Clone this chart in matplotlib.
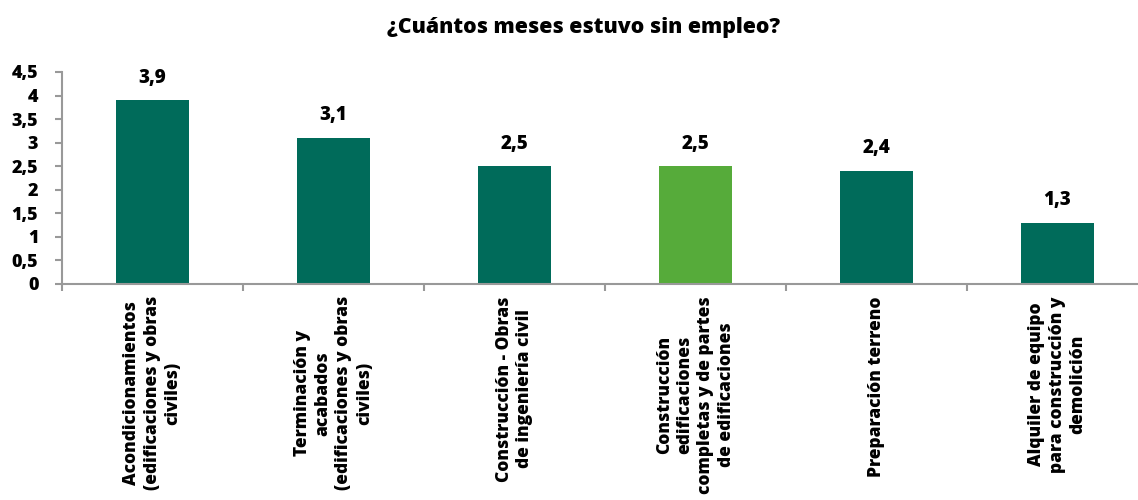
import matplotlib
matplotlib.use('Agg')
from matplotlib import pyplot as plt

# data
categories = [
    'Acondicionamientos\n(edificaciones y obras\nciviles)',
    'Terminación y\nacabados\n(edificaciones y obras\nciviles)',
    'Construcción - Obras\nde ingeniería civil',
    'Construcción\nedificaciones\ncompletas y de partes\nde edificaciones',
    'Preparación terreno',
    'Alquiler de equipo\npara construcción y\ndemolición',
]
months = [3.9, 3.1, 2.5, 2.5, 2.4, 1.3]
highlight = [False, False, False, True, False, False]
yticks = [0, 0.5, 1, 1.5, 2, 2.5, 3, 3.5, 4, 4.5]

dark_green = '#006B5A'
light_green = '#56AB3A'
grey = '#999999'

plt.rcParams['font.family'] = ['Open Sans', 'DejaVu Sans']
W = 800  # extra bold, closest to the heavy Calibri look

fig = plt.figure(figsize=(11.38, 5.0), dpi=100)
# the plot area runs a bit past the right edge, as in the original
ax = fig.add_axes([62 / 1138, 1 - 284 / 500, 1086 / 1138, 212 / 500])

x = list(range(len(months)))
colors = [light_green if h else dark_green for h in highlight]
bars = ax.bar(x, months, width=0.40, color=colors)

for xi, v in zip(x, months):
    ax.annotate(f'{v:.1f}'.replace('.', ','), (xi, v), xytext=(0, 9),
                textcoords='offset points', ha='center', va='bottom',
                fontsize=13.5, fontweight=W)

ax.set_xlim(-0.5, len(months) - 0.5)
ax.set_ylim(0, 4.5)
ax.set_yticks(yticks)
ax.set_yticklabels([f'{t:g}'.replace('.', ',') for t in yticks],
                   fontsize=13, fontweight=W)

# category ticks sit on the boundaries, labels in the middle
ax.set_xticks([i - 0.5 for i in range(len(months) + 1)])
ax.set_xticklabels([])
for xi, lab in zip(x, categories):
    ax.text(xi, -0.26, lab, rotation=90, ha='center', va='top',
            multialignment='center', fontsize=12.5, fontweight=W,
            linespacing=1.27)

for s in ['top', 'right']:
    ax.spines[s].set_visible(False)
for s in ['left', 'bottom']:
    ax.spines[s].set_color(grey)
    ax.spines[s].set_linewidth(1.5)
ax.tick_params(axis='both', color=grey, width=1.5, length=5, direction='out')
ax.tick_params(axis='y', pad=12)

fig.text(584 / 1138, 1 - 28 / 500, '¿Cuántos meses estuvo sin empleo?',
         ha='center', va='center', fontsize=15.3, fontweight=W)

fig.savefig('out.png', dpi=100)
